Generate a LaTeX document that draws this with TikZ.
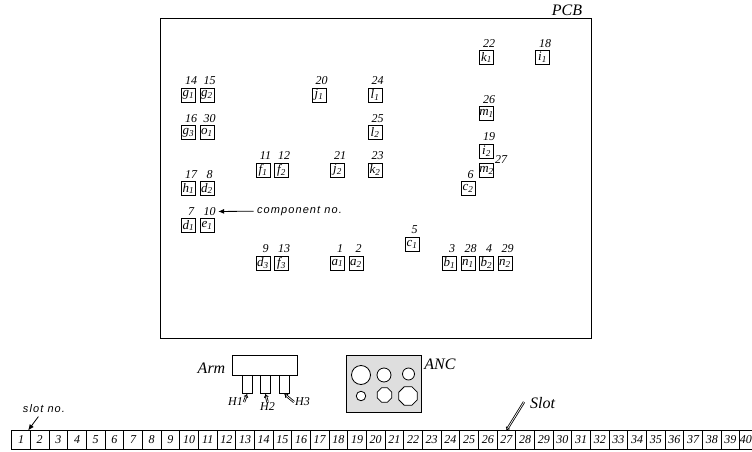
\documentclass[tikz,border=0pt]{standalone}
\usepackage{fontspec}
\setmainfont{Liberation Serif}
\newfontfamily\notefont[LetterSpace=10]{Liberation Sans}
\usetikzlibrary{shapes.geometric,arrows.meta}
\newcommand{\numfont}{\fontsize{12}{14}\selectfont\itshape}
\newcommand{\symfont}{\fontsize{13}{14}\selectfont\itshape}
\newcommand{\tagfont}{\fontsize{16}{18}\selectfont\itshape}
\tikzstyle{box}=[draw, line width=0.8pt, inner sep=0pt, minimum size=14pt, font=\symfont]
\tikzstyle{num}=[inner sep=1pt, xshift=2.5pt, font=\numfont]
\tikzstyle{cell}=[draw, line width=0.7pt, inner sep=0pt, minimum width=18.67pt, minimum height=18.5pt, font=\numfont]
\tikzstyle{pin}=[draw, line width=0.8pt, minimum width=10pt, minimum height=18.5pt, inner sep=0pt]
\tikzstyle{hole}=[draw, line width=0.8pt, fill=white, circle, inner sep=0pt]
\tikzstyle{octa}=[draw, line width=0.8pt, fill=white, regular polygon, regular polygon sides=8, inner sep=0pt]
\tikzstyle{note}=[font=\notefont\itshape\fontsize{11}{13}\selectfont]
\tikzstyle{tag}=[font=\tagfont]
\tikzstyle{hollow}=[double, double distance=0.7pt, line width=0.8pt, -{Implies}]

\begin{document}
\begin{tikzpicture}[x=1pt, y=-1pt, >={Latex[length=6pt,width=5pt]}]
            \clip (0,0) rectangle (752,452);
            \fill[white] (0,0) rectangle (752,452);
            % PCB
            \node [draw, line width=1pt, minimum width=431pt, minimum height=319pt, inner sep=0pt] (pcb) at (376,178.5) {};
            \node [tag] (pcbname) at (567,10) {PCB};
            % left group
            \node [box] (g1) at (188.5,95) {g\textsubscript{1}};
            \node [box, right of=g1, node distance=18.5pt] (g2) {g\textsubscript{2}};
            \node [box] (g3) at (188.5,132.5) {g\textsubscript{3}};
            \node [box, right of=g3, node distance=18.5pt] (o1) {o\textsubscript{1}};
            \node [box] (h1) at (188.5,188.5) {h\textsubscript{1}};
            \node [box, right of=h1, node distance=18.5pt] (d2) {d\textsubscript{2}};
            \node [box] (d1) at (188.5,225.5) {d\textsubscript{1}};
            \node [box, right of=d1, node distance=18.5pt] (e1) {e\textsubscript{1}};
            \node [box] (f1) at (263,170) {f\textsubscript{1}};
            \node [box, right of=f1, node distance=18.5pt] (f2) {f\textsubscript{2}};
            \node [box] (d3) at (263,263) {d\textsubscript{3}};
            \node [box, right of=d3, node distance=18.5pt] (f3) {f\textsubscript{3}};
            % middle group
            \node [box] (j1) at (319,95) {j\textsubscript{1}};
            \node [box] (l1) at (375,95) {l\textsubscript{1}};
            \node [box] (l2) at (375,132.5) {l\textsubscript{2}};
            \node [box] (j2) at (337.5,170) {j\textsubscript{2}};
            \node [box] (k2) at (375,170) {k\textsubscript{2}};
            \node [box] (a1) at (337.5,263) {a\textsubscript{1}};
            \node [box, right of=a1, node distance=18.5pt] (a2) {a\textsubscript{2}};
            \node [box] (c1) at (412,244) {c\textsubscript{1}};
            % right group
            \node [box] (k1) at (486.5,57.5) {k\textsubscript{1}};
            \node [box] (i1) at (542.5,57.5) {i\textsubscript{1}};
            \node [box] (m1) at (486.5,113.5) {m\textsubscript{1}};
            \node [box] (i2) at (486.5,151) {i\textsubscript{2}};
            \node [box] (m2) at (486.5,170) {m\textsubscript{2}};
            \node [box] (c2) at (468,188.5) {c\textsubscript{2}};
            \node [box] (b1) at (449.5,263) {b\textsubscript{1}};
            \node [box, right of=b1, node distance=18.5pt] (n1) {n\textsubscript{1}};
            \node [box, right of=n1, node distance=18.5pt] (b2) {b\textsubscript{2}};
            \node [box, right of=b2, node distance=18.5pt] (n2) {n\textsubscript{2}};
            % component numbers
            \node [num, above of=a1, node distance=14pt] (no1) {1};
            \node [num, above of=a2, node distance=14pt] (no2) {2};
            \node [num, above of=b1, node distance=14pt] (no3) {3};
            \node [num, above of=b2, node distance=14pt] (no4) {4};
            \node [num, above of=c1, node distance=14pt] (no5) {5};
            \node [num, above of=c2, node distance=14pt] (no6) {6};
            \node [num, above of=d1, node distance=14pt] (no7) {7};
            \node [num, above of=d2, node distance=14pt] (no8) {8};
            \node [num, above of=d3, node distance=14pt] (no9) {9};
            \node [num, above of=e1, node distance=14pt] (no10) {10};
            \node [num, above of=f1, node distance=14pt] (no11) {11};
            \node [num, above of=f2, node distance=14pt] (no12) {12};
            \node [num, above of=f3, node distance=14pt] (no13) {13};
            \node [num, above of=g1, node distance=14pt] (no14) {14};
            \node [num, above of=g2, node distance=14pt] (no15) {15};
            \node [num, above of=g3, node distance=14pt] (no16) {16};
            \node [num, above of=h1, node distance=14pt] (no17) {17};
            \node [num, above of=i1, node distance=14pt] (no18) {18};
            \node [num, above of=i2, node distance=14pt] (no19) {19};
            \node [num, above of=j1, node distance=14pt] (no20) {20};
            \node [num, above of=j2, node distance=14pt] (no21) {21};
            \node [num, above of=k1, node distance=14pt] (no22) {22};
            \node [num, above of=k2, node distance=14pt] (no23) {23};
            \node [num, above of=l1, node distance=14pt] (no24) {24};
            \node [num, above of=l2, node distance=14pt] (no25) {25};
            \node [num, above of=m1, node distance=14pt] (no26) {26};
            \node [num] (no27) at (498.5,160) {27};
            \node [num, above of=n1, node distance=14pt] (no28) {28};
            \node [num, above of=n2, node distance=14pt] (no29) {29};
            \node [num, above of=o1, node distance=14pt] (no30) {30};
            \node [note, anchor=west] (compno) at (253.5,211) {component no.};
            \path[->, line width=0.8pt, shorten >=1.5pt] (compno) edge (no10);
            % arm
            \node [draw, line width=0.8pt, minimum width=65.5pt, minimum height=19.5pt, inner sep=0pt] (arm) at (265,365.5) {};
            \node [tag] (armname) at (211.5,368) {Arm};
            \node [pin] (p1) at (247,384.5) {};
            \node [pin] (p2) at (265.5,384.5) {};
            \node [pin] (p3) at (284.5,384.5) {};
            \node [num, xshift=0pt] (H1) at (233,402) {H1};
            \node [num, xshift=0pt] (H2) at (265,407) {H2};
            \node [num, xshift=0pt] (H3) at (300,402) {H3};
            \draw[hollow] (H1.east) -- (p1.south);
            \draw[hollow] (H2.north) -- (p2.south);
            \draw[hollow] (H3.west) -- (p3.south);
            % nozzle changer
            \node [draw, line width=1pt, fill=black!13, minimum width=75pt, minimum height=56.5pt, inner sep=0pt] (anc) at (384,384) {};
            \node [tag] (ancname) at (440,364) {ANC};
            \node [hole, minimum size=19pt] (h11) at (361,375) {};
            \node [hole, minimum size=14pt] (h12) at (384,375) {};
            \node [hole, minimum size=12pt] (h13) at (408.5,374) {};
            \node [hole, minimum size=9.5pt] (h21) at (361,396) {};
            \node [octa, minimum size=15.5pt] (h22) at (384.5,395) {};
            \node [octa, minimum size=20pt] (h23) at (408,396) {};
            % slots
            \node [note] (slotno) at (44,409) {slot no.};
            \foreach \n in {1,...,39}
                \node [cell] (s\n) at (21+18.67*\n-18.67,440) {\n};
            \node [cell, text width=18.67pt, align=left] (s40) at (749.1,440) {40};
            \path[->, line width=0.8pt] (slotno) edge (s1);
            \node [tag] (slotname) at (542.5,403) {Slot};
            \coordinate (slotend) at (524,402);
            \draw[hollow] (slotend) -- (s27.north);
        \end{tikzpicture}
\end{document}
